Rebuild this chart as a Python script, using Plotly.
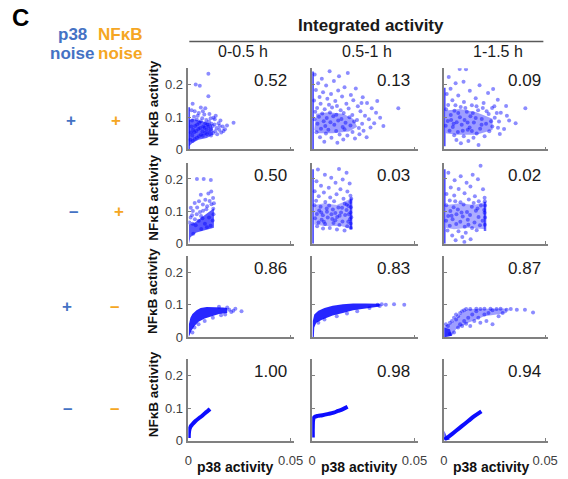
import plotly.graph_objects as go

# ---------------- data ----------------
col_titles = ["0-0.5 h", "0.5-1 h", "1-1.5 h"]
corr = [["0.52", "0.13", "0.09"],
        ["0.50", "0.03", "0.02"],
        ["0.86", "0.83", "0.87"],
        ["1.00", "0.98", "0.94"]]
p38_signs = ["+", "\u2013", "+", "\u2013"]
nfkb_signs = ["+", "+", "\u2013", "\u2013"]
x_ticks = [0, 0.05]
x_ticklabels = ["0", "0.05"]
y_ticks = [0, 0.1, 0.2]
y_ticklabels = ["0", "0.1", "0.2"]

# row 1 ---------------------------------------------------------
r1c1_pts = [(0.001, 0.03), (0.0012, 0.052), (0.0015, 0.071), (0.0021, 0.026), (0.0019, 0.043), (0.0023, 0.061),
            (0.0018, 0.089), (0.0031, 0.032), (0.0029, 0.053), (0.0033, 0.072), (0.0028, 0.101), (0.0042, 0.036),
            (0.0039, 0.057), (0.0043, 0.077), (0.0041, 0.092), (0.0052, 0.041), (0.0049, 0.063), (0.0053, 0.082),
            (0.0051, 0.112), (0.0062, 0.046), (0.0058, 0.066), (0.0061, 0.087), (0.0071, 0.042), (0.0069, 0.056),
            (0.0073, 0.071), (0.0068, 0.096), (0.0082, 0.051), (0.0079, 0.067), (0.0083, 0.081), (0.0078, 0.108),
            (0.0091, 0.047), (0.0089, 0.061), (0.0093, 0.077), (0.0088, 0.091), (0.0102, 0.052), (0.0098, 0.071),
            (0.0101, 0.086), (0.0111, 0.043), (0.0109, 0.062), (0.0113, 0.079), (0.0121, 0.051), (0.0119, 0.072),
            (0.0123, 0.098), (0.0131, 0.056), (0.0128, 0.077), (0.0141, 0.047), (0.0138, 0.066), (0.0151, 0.061),
            (0.0148, 0.081), (0.0161, 0.052), (0.0168, 0.071), (0.0179, 0.062), (0.0221, 0.082), (0.0036, 0.200),
            (0.0056, 0.196), (0.0098, 0.233), (0.0098, 0.164), (0.0083, 0.127), (0.0021, 0.141), (0.0061, 0.129),
            (0.0031, 0.118), (0.0103, 0.109), (0.0016, 0.121), (0.0046, 0.104), (0.0129, 0.093), (0.0153, 0.072),
            (0.0172, 0.057), (0.0134, 0.104), (0.0071, 0.118), (0.0109, 0.096), (0.0157, 0.089), (0.0189, 0.074)]
r1c1_core = [(0.0003, 0.01), (0.0003, 0.09), (0.002, 0.095), (0.005, 0.09), (0.008, 0.085), (0.011, 0.08),
             (0.012, 0.065), (0.012, 0.045), (0.009, 0.035), (0.005, 0.03), (0.002, 0.02)]
r1c1_strip = (0.0, 0.13)

r1c2_pts = [(0.0012, 0.231), (0.0047, 0.218), (0.0085, 0.241), (0.0131, 0.226), (0.0174, 0.236), (0.0029, 0.204),
            (0.0068, 0.197), (0.0106, 0.211), (0.0158, 0.192), (0.0213, 0.188), (0.0018, 0.183), (0.0053, 0.176),
            (0.0092, 0.171), (0.0127, 0.182), (0.0189, 0.168), (0.0247, 0.161), (0.0036, 0.162), (0.0074, 0.156),
            (0.0113, 0.149), (0.0146, 0.163), (0.0201, 0.152), (0.0268, 0.143), (0.0009, 0.151), (0.0041, 0.141),
            (0.0082, 0.138), (0.0121, 0.134), (0.0167, 0.141), (0.0223, 0.133), (0.0291, 0.127), (0.0024, 0.128),
            (0.0061, 0.124), (0.0097, 0.129), (0.0139, 0.121), (0.0178, 0.126), (0.0236, 0.118), (0.0312, 0.113),
            (0.0015, 0.116), (0.0049, 0.111), (0.0087, 0.114), (0.0118, 0.107), (0.0154, 0.112), (0.0196, 0.106),
            (0.0258, 0.104), (0.0332, 0.098), (0.0033, 0.101), (0.0071, 0.097), (0.0103, 0.102), (0.0143, 0.094),
            (0.0182, 0.099), (0.0219, 0.091), (0.0277, 0.093), (0.0011, 0.093), (0.0056, 0.087), (0.0089, 0.084),
            (0.0127, 0.089), (0.0163, 0.082), (0.0205, 0.086), (0.0244, 0.079), (0.0303, 0.081), (0.0026, 0.079),
            (0.0064, 0.072), (0.0108, 0.076), (0.0149, 0.069), (0.0187, 0.074), (0.0228, 0.066), (0.0285, 0.068),
            (0.0348, 0.072), (0.0043, 0.064), (0.0079, 0.061), (0.0117, 0.057), (0.0158, 0.062), (0.0197, 0.054),
            (0.0251, 0.058), (0.0021, 0.053), (0.0067, 0.049), (0.0134, 0.046), (0.0172, 0.043), (0.0231, 0.047),
            (0.0038, 0.038), (0.0094, 0.036), (0.0152, 0.031), (0.0209, 0.034), (0.0059, 0.024), (0.0123, 0.021),
            (0.0266, 0.038), (0.0421, 0.127), (0.0241, 0.143), (0.0318, 0.149)]
r1c2_core = [(0.001, 0.06), (0.002, 0.11), (0.008, 0.115), (0.015, 0.11), (0.020, 0.095), (0.022, 0.07),
             (0.018, 0.055), (0.010, 0.05), (0.003, 0.05)]
r1c2_strip = (0.0, 0.24)

r1c3_pts = [(0.0078, 0.248), (0.0109, 0.247), (0.0024, 0.223), (0.0058, 0.204), (0.0097, 0.209), (0.0176, 0.198),
            (0.0033, 0.187), (0.0128, 0.181), (0.0218, 0.174), (0.0243, 0.186), (0.0014, 0.171), (0.0071, 0.166),
            (0.0157, 0.158), (0.0266, 0.153), (0.0042, 0.152), (0.0099, 0.146), (0.0196, 0.143), (0.0021, 0.137),
            (0.0083, 0.131), (0.0138, 0.136), (0.0238, 0.128), (0.0307, 0.134), (0.0011, 0.124), (0.0052, 0.119),
            (0.0113, 0.116), (0.0169, 0.121), (0.0221, 0.109), (0.0281, 0.113), (0.0034, 0.106), (0.0079, 0.099),
            (0.0131, 0.102), (0.0187, 0.094), (0.0251, 0.098), (0.0322, 0.089), (0.0019, 0.088), (0.0063, 0.084),
            (0.0102, 0.091), (0.0148, 0.083), (0.0208, 0.079), (0.0272, 0.086), (0.0354, 0.081), (0.0009, 0.073),
            (0.0044, 0.069), (0.0088, 0.076), (0.0127, 0.068), (0.0179, 0.064), (0.0239, 0.071), (0.0297, 0.063),
            (0.0028, 0.058), (0.0069, 0.054), (0.0118, 0.061), (0.0162, 0.049), (0.0224, 0.056), (0.0276, 0.048),
            (0.0051, 0.044), (0.0098, 0.041), (0.0146, 0.036), (0.0201, 0.041), (0.0062, 0.029), (0.0121, 0.026),
            (0.0084, 0.019), (0.0171, 0.014), (0.0402, 0.127), (0.0249, 0.133), (0.0057, 0.136), (0.0143, 0.112),
            (0.0192, 0.128), (0.0036, 0.091), (0.0157, 0.097), (0.0211, 0.118), (0.0261, 0.112), (0.0106, 0.128),
            (0.0071, 0.112), (0.0048, 0.079), (0.0138, 0.057), (0.0186, 0.076), (0.0233, 0.087), (0.0117, 0.083),
            (0.0093, 0.058), (0.0161, 0.133), (0.0311, 0.104), (0.0267, 0.067)]
r1c3_core = [(0.001, 0.05), (0.001, 0.12), (0.008, 0.125), (0.016, 0.115), (0.024, 0.095), (0.024, 0.06),
             (0.016, 0.045), (0.006, 0.045)]
r1c3_strip = (0.01, 0.19)

# row 2 ---------------------------------------------------------
r2c1_pts = [(0.0042, 0.200), (0.0075, 0.200), (0.0110, 0.197), (0.0061, 0.151), (0.0098, 0.155), (0.0112, 0.161),
            (0.0031, 0.126), (0.0052, 0.131), (0.0083, 0.136), (0.0121, 0.141), (0.0012, 0.111), (0.0022, 0.101),
            (0.0043, 0.112), (0.0071, 0.121), (0.0092, 0.116), (0.0113, 0.122), (0.0122, 0.108), (0.0005, 0.066),
            (0.0011, 0.081), (0.0021, 0.062), (0.0032, 0.076), (0.0051, 0.071), (0.0062, 0.086), (0.0081, 0.062),
            (0.0101, 0.081), (0.0119, 0.072), (0.0123, 0.091), (0.0109, 0.056), (0.0024, 0.031), (0.0063, 0.046),
            (0.0091, 0.051), (0.0041, 0.091), (0.0072, 0.102), (0.0125, 0.125), (0.0018, 0.088), (0.0057, 0.098),
            (0.0088, 0.107), (0.0104, 0.132), (0.0036, 0.057), (0.0069, 0.079)]
r2c1_core = [(0.0003, 0.0), (0.0003, 0.06), (0.003, 0.065), (0.006, 0.08), (0.009, 0.095), (0.0125, 0.11),
             (0.0125, 0.05), (0.008, 0.042), (0.004, 0.035), (0.001, 0.02)]

r2c2_pts = [(0.0028, 0.229), (0.0131, 0.231), (0.0168, 0.219), (0.0062, 0.213), (0.0093, 0.204), (0.0149, 0.198),
            (0.0021, 0.193), (0.0114, 0.188), (0.0183, 0.186), (0.0043, 0.179), (0.0081, 0.173), (0.0138, 0.168),
            (0.0012, 0.162), (0.0057, 0.158), (0.0119, 0.153), (0.0172, 0.161), (0.0032, 0.147), (0.0088, 0.143),
            (0.0153, 0.139), (0.0187, 0.148), (0.0019, 0.133), (0.0064, 0.129), (0.0107, 0.131), (0.0159, 0.124),
            (0.0011, 0.119), (0.0041, 0.114), (0.0083, 0.118), (0.0128, 0.112), (0.0177, 0.117), (0.0034, 0.103),
            (0.0072, 0.099), (0.0101, 0.106), (0.0141, 0.097), (0.0168, 0.104), (0.0023, 0.092), (0.0052, 0.088),
            (0.0094, 0.091), (0.0122, 0.083), (0.0161, 0.089), (0.0014, 0.079), (0.0046, 0.074), (0.0076, 0.081),
            (0.0113, 0.073), (0.0148, 0.069), (0.0184, 0.076), (0.0031, 0.066), (0.0063, 0.061), (0.0104, 0.064),
            (0.0133, 0.058), (0.0171, 0.054), (0.0024, 0.054), (0.0086, 0.049), (0.0121, 0.044), (0.0158, 0.041),
            (0.0053, 0.047), (0.0189, 0.049), (0.0188, 0.063), (0.0191, 0.082), (0.0187, 0.097), (0.0189, 0.113),
            (0.0186, 0.129), (0.0191, 0.139), (0.0179, 0.091), (0.0176, 0.068), (0.0169, 0.121), (0.0098, 0.077),
            (0.0071, 0.109), (0.0134, 0.087), (0.0044, 0.097), (0.0146, 0.111), (0.0113, 0.095), (0.0057, 0.068)]
r2c2_core = [(0.001, 0.06), (0.001, 0.12), (0.006, 0.125), (0.012, 0.12), (0.019, 0.14), (0.0195, 0.045),
             (0.014, 0.055), (0.006, 0.055)]
r2c2_strip = (0.0, 0.23)
r2c2_edge = (0.019, 0.045, 0.14)

r2c3_pts = [(0.0181, 0.241), (0.0022, 0.219), (0.0083, 0.208), (0.0142, 0.213), (0.0053, 0.196), (0.0112, 0.188),
            (0.0168, 0.199), (0.0034, 0.174), (0.0073, 0.169), (0.0131, 0.177), (0.0193, 0.168), (0.0013, 0.154),
            (0.0051, 0.149), (0.0102, 0.156), (0.0153, 0.147), (0.0029, 0.134), (0.0082, 0.128), (0.0123, 0.137),
            (0.0172, 0.131), (0.0201, 0.142), (0.0012, 0.119), (0.0048, 0.113), (0.0097, 0.121), (0.0138, 0.114),
            (0.0183, 0.118), (0.0032, 0.101), (0.0069, 0.106), (0.0114, 0.098), (0.0158, 0.102), (0.0199, 0.104),
            (0.0021, 0.086), (0.0062, 0.091), (0.0093, 0.084), (0.0129, 0.089), (0.0171, 0.083), (0.0011, 0.071),
            (0.0043, 0.076), (0.0081, 0.068), (0.0118, 0.074), (0.0151, 0.066), (0.0191, 0.071), (0.0029, 0.056),
            (0.0061, 0.061), (0.0103, 0.053), (0.0139, 0.049), (0.0178, 0.057), (0.0018, 0.041), (0.0072, 0.039),
            (0.0108, 0.034), (0.0162, 0.042), (0.0041, 0.026), (0.0091, 0.021), (0.0132, 0.014), (0.0058, 0.011),
            (0.0101, 0.006), (0.0202, 0.059), (0.0203, 0.081), (0.0201, 0.096), (0.0203, 0.118), (0.0202, 0.131),
            (0.0056, 0.131), (0.0147, 0.126), (0.0087, 0.097), (0.0121, 0.059), (0.0038, 0.087), (0.0166, 0.109)]
r2c3_core = [(0.001, 0.05), (0.001, 0.12), (0.008, 0.125), (0.015, 0.12), (0.0205, 0.13), (0.0205, 0.045),
             (0.012, 0.05), (0.005, 0.045)]
r2c3_strip = (0.0, 0.23)
r2c3_edge = (0.0203, 0.04, 0.13)

# row 3 ---------------------------------------------------------
r3c1_pts = [(0.020, 0.085), (0.022, 0.082), (0.023, 0.088), (0.026, 0.080), (0.021, 0.078), (0.018, 0.070),
            (0.016, 0.068), (0.012, 0.060), (0.008, 0.050), (0.005, 0.040), (0.003, 0.030), (0.002, 0.015),
            (0.019, 0.092), (0.015, 0.094)]
r3c1_core = [(0.0002, 0.0), (0.0003, 0.04), (0.001, 0.06), (0.002, 0.072), (0.004, 0.083), (0.006, 0.090),
             (0.009, 0.093), (0.013, 0.093), (0.017, 0.092), (0.019, 0.090), (0.019, 0.075), (0.015, 0.072),
             (0.011, 0.065), (0.008, 0.058), (0.005, 0.048), (0.003, 0.035), (0.0015, 0.020), (0.0005, 0.005)]

r3c2_pts = [(0.032, 0.100), (0.034, 0.102), (0.036, 0.100), (0.040, 0.102), (0.045, 0.100), (0.028, 0.090),
            (0.033, 0.096), (0.022, 0.080), (0.017, 0.073), (0.012, 0.065), (0.006, 0.055), (0.003, 0.045)]
r3c2_core = [(0.0002, 0.0), (0.0003, 0.05), (0.001, 0.07), (0.003, 0.082), (0.006, 0.090), (0.010, 0.097),
             (0.015, 0.102), (0.020, 0.104), (0.026, 0.104), (0.033, 0.103), (0.033, 0.095), (0.025, 0.088),
             (0.020, 0.083), (0.015, 0.075), (0.010, 0.067), (0.005, 0.055), (0.002, 0.045), (0.001, 0.030),
             (0.0008, 0.0)]

r3c3_pts = [(0.001, 0.04), (0.002, 0.035), (0.003, 0.045), (0.004, 0.05), (0.005, 0.06), (0.006, 0.055),
            (0.006, 0.07), (0.007, 0.065), (0.008, 0.075), (0.009, 0.08), (0.010, 0.083), (0.011, 0.087),
            (0.008, 0.04), (0.010, 0.05), (0.012, 0.06), (0.014, 0.07), (0.016, 0.08), (0.018, 0.087), (0.015, 0.05),
            (0.017, 0.06), (0.020, 0.07), (0.022, 0.075), (0.024, 0.083), (0.026, 0.087), (0.024, 0.04), (0.021, 0.05),
            (0.027, 0.065), (0.029, 0.075), (0.031, 0.085), (0.033, 0.087), (0.036, 0.085), (0.040, 0.085),
            (0.044, 0.076), (0.013, 0.087), (0.016, 0.088), (0.020, 0.088), (0.023, 0.088), (0.028, 0.088),
            (0.007, 0.03), (0.009, 0.035), (0.011, 0.042), (0.005, 0.015), (0.003, 0.01), (0.013, 0.035),
            (0.018, 0.045)]
r3c3_core = [(0.0002, 0.0), (0.0002, 0.035), (0.004, 0.045), (0.008, 0.070), (0.012, 0.087), (0.031, 0.089),
             (0.031, 0.075), (0.020, 0.065), (0.012, 0.045), (0.006, 0.025), (0.004, 0.005)]
r3c3_corner = [(0.0002, 0.0), (0.0002, 0.03), (0.003, 0.025), (0.004, 0.005)]

# row 4 ---------------------------------------------------------
r4c1_curve_x = [0.0002, 0.0004, 0.001, 0.002, 0.0035, 0.005, 0.0065, 0.0083, 0.0095, 0.0106]
r4c1_curve_y = [0.008, 0.030, 0.042, 0.050, 0.060, 0.068, 0.075, 0.085, 0.091, 0.097]
r4c2_curve_x = [0.0003, 0.0003, 0.0005, 0.001, 0.0027, 0.005, 0.008, 0.0105, 0.0126, 0.015, 0.0173]
r4c2_curve_y = [0.009, 0.040, 0.065, 0.072, 0.076, 0.078, 0.082, 0.086, 0.091, 0.097, 0.104]
r4c3_curve_x = [0.0003, 0.003, 0.006, 0.009, 0.012, 0.015, 0.0185]
r4c3_curve_y = [0.003, 0.015, 0.030, 0.045, 0.060, 0.075, 0.090]
r4c3_corner = [(0.0002, 0.0), (0.0002, 0.03), (0.0015, 0.012), (0.003, 0.002)]

# ---------------- layout constants ----------------
W, H = 568, 479
col_px = [(189, 297), (316, 424), (451, 558)]
row_px = [(69.5, 152), (165.5, 248), (260.5, 343), (365.5, 448)]
BLUE = "#0000FF"
P38_COL = "#4472C4"
NFKB_COL = "#F5A623"
AXCOL = "#808080"
FONT = "Liberation Sans, Arial, sans-serif"


def px_x(p):
    return p / W


def px_y(p):
    return 1 - p / H


fig = go.Figure()

panels = {
    (0, 0): dict(pts=r1c1_pts, core=r1c1_core, core_op=0.6, strip=r1c1_strip),
    (0, 1): dict(pts=r1c2_pts, core=r1c2_core, core_op=0.38, strip=r1c2_strip),
    (0, 2): dict(pts=r1c3_pts, core=r1c3_core, core_op=0.38, strip=r1c3_strip),
    (1, 0): dict(pts=r2c1_pts, core=r2c1_core, core_op=0.65),
    (1, 1): dict(pts=r2c2_pts, core=r2c2_core, core_op=0.32, strip=r2c2_strip, edge=r2c2_edge),
    (1, 2): dict(pts=r2c3_pts, core=r2c3_core, core_op=0.32, strip=r2c3_strip, edge=r2c3_edge),
    (2, 0): dict(pts=r3c1_pts, core=r3c1_core, core_op=0.85),
    (2, 1): dict(pts=r3c2_pts, core=r3c2_core, core_op=0.85),
    (2, 2): dict(pts=r3c3_pts, core=r3c3_core, core_op=0.38, corner=r3c3_corner),
    (3, 0): dict(curve=(r4c1_curve_x, r4c1_curve_y)),
    (3, 1): dict(curve=(r4c2_curve_x, r4c2_curve_y)),
    (3, 2): dict(curve=(r4c3_curve_x, r4c3_curve_y), corner=r4c3_corner),
}

annotations = []
for r in range(4):
    for c in range(3):
        k = r * 3 + c + 1
        xa = "x" if k == 1 else f"x{k}"
        ya = "y" if k == 1 else f"y{k}"
        p = panels[(r, c)]
        if "core" in p:
            fig.add_trace(go.Scatter(
                x=[q[0] for q in p["core"]], y=[q[1] for q in p["core"]],
                fill="toself", mode="lines", line=dict(width=0),
                fillcolor=f"rgba(0,0,255,{p['core_op']})", hoverinfo="skip",
                showlegend=False, xaxis=xa, yaxis=ya))
        if "corner" in p:
            fig.add_trace(go.Scatter(
                x=[q[0] for q in p["corner"]], y=[q[1] for q in p["corner"]],
                fill="toself", mode="lines", line=dict(width=0),
                fillcolor="rgba(0,0,255,0.7)", hoverinfo="skip",
                showlegend=False, xaxis=xa, yaxis=ya))
        if "strip" in p:
            fig.add_trace(go.Scatter(
                x=[0.0003, 0.0003], y=list(p["strip"]), mode="lines",
                line=dict(color="rgba(0,0,255,0.7)", width=2.2),
                showlegend=False, xaxis=xa, yaxis=ya))
        if "edge" in p:
            ex, ey0, ey1 = p["edge"]
            fig.add_trace(go.Scatter(
                x=[ex, ex], y=[ey0, ey1], mode="lines",
                line=dict(color="rgba(0,0,255,0.6)", width=2.5),
                showlegend=False, xaxis=xa, yaxis=ya))
        if "pts" in p:
            fig.add_trace(go.Scatter(
                x=[q[0] for q in p["pts"]], y=[q[1] for q in p["pts"]],
                mode="markers", marker=dict(size=4, color=BLUE, opacity=0.45, line=dict(width=0)),
                showlegend=False, xaxis=xa, yaxis=ya))
        if "curve" in p:
            fig.add_trace(go.Scatter(
                x=p["curve"][0], y=p["curve"][1], mode="lines",
                line=dict(color=BLUE, width=4, shape="spline"), opacity=0.95,
                showlegend=False, xaxis=xa, yaxis=ya))

        x0, x1 = col_px[c]
        yt, yb = row_px[r]
        fig.layout[f"xaxis{'' if k == 1 else k}"] = dict(
            domain=[px_x(x0), px_x(x1)], range=[0, 0.0515], anchor=ya,
            showgrid=False, zeroline=False, showline=True, linecolor=AXCOL, linewidth=1.5,
            ticks="inside", ticklen=3, tickcolor=AXCOL, tickvals=x_ticks, ticktext=x_ticklabels,
            showticklabels=(r == 3), tickfont=dict(size=13, color="#404040", family=FONT),
            ticklabelstandoff=7, fixedrange=True)
        fig.layout[f"yaxis{'' if k == 1 else k}"] = dict(
            domain=[px_y(yb), px_y(yt)], range=[0, 0.25], anchor=xa,
            showgrid=False, zeroline=False, showline=True, linecolor=AXCOL, linewidth=1.5,
            ticks="inside", ticklen=3, tickcolor=AXCOL, tickvals=y_ticks, ticktext=y_ticklabels,
            showticklabels=(c == 0), tickfont=dict(size=13, color="#404040", family=FONT),
            ticklabelstandoff=1, fixedrange=True)

        annotations.append(dict(
            x=0.049, y=0.212, xref=xa, yref=ya, text=corr[r][c], showarrow=False,
            xanchor="right", yanchor="middle", font=dict(size=17, color="#1a1a1a", family=FONT)))

        if r == 3:
            annotations.append(dict(
                x=px_x(x0 + 7), y=px_y(475), xref="paper", yref="paper", text="<b>p38 activity</b>",
                showarrow=False, xanchor="left", yanchor="middle",
                font=dict(size=14, color="#111111", family=FONT)))

    # y titles
    yt, yb = row_px[r]
    annotations.append(dict(
        x=px_x(153), y=px_y((yt + yb) / 2 - 6), xref="paper", yref="paper",
        text="<b>NF\u03baB activity</b>", textangle=-90, showarrow=False,
        xanchor="center", yanchor="middle", font=dict(size=13.5, color="#111111", family=FONT)))

# column titles
for c, t in enumerate(col_titles):
    x0, x1 = col_px[c]
    annotations.append(dict(
        x=px_x((x0 + x1) / 2 + 2), y=px_y(52), xref="paper", yref="paper", text=t,
        showarrow=False, xanchor="center", yanchor="middle",
        font=dict(size=16, color="#1a1a1a", family=FONT)))

annotations += [
    dict(x=px_x(376), y=px_y(26), xref="paper", yref="paper", text="<b>Integrated activity</b>",
         showarrow=False, xanchor="center", yanchor="middle", font=dict(size=17, color="#1a1a1a", family=FONT)),
    dict(x=px_x(17), y=px_y(18), xref="paper", yref="paper", text="<b>C</b>",
         showarrow=False, xanchor="center", yanchor="middle", font=dict(size=24, color="#000000", family=FONT)),
    dict(x=px_x(70), y=px_y(35), xref="paper", yref="paper", text="<b>p38</b>",
         showarrow=False, xanchor="center", yanchor="middle", font=dict(size=17, color=P38_COL, family=FONT)),
    dict(x=px_x(70), y=px_y(54), xref="paper", yref="paper", text="<b>noise</b>",
         showarrow=False, xanchor="center", yanchor="middle", font=dict(size=17, color=P38_COL, family=FONT)),
    dict(x=px_x(118.5), y=px_y(35), xref="paper", yref="paper", text="<b>NF\u03baB</b>",
         showarrow=False, xanchor="center", yanchor="middle", font=dict(size=17, color=NFKB_COL, family=FONT)),
    dict(x=px_x(118.5), y=px_y(54), xref="paper", yref="paper", text="<b>noise</b>",
         showarrow=False, xanchor="center", yanchor="middle", font=dict(size=17, color=NFKB_COL, family=FONT)),
]

sign_y = [123, 215, 312, 415]
p38_sign_x = [69, 71, 65, 65]
nfkb_sign_x = [115, 118, 113, 113]
for i in range(4):
    annotations.append(dict(x=px_x(p38_sign_x[i]), y=px_y(sign_y[i]), xref="paper", yref="paper",
                            text=f"<b>{p38_signs[i]}</b>", showarrow=False, xanchor="center", yanchor="middle",
                            font=dict(size=17, color=P38_COL, family=FONT)))
    annotations.append(dict(x=px_x(nfkb_sign_x[i]), y=px_y(sign_y[i]), xref="paper", yref="paper",
                            text=f"<b>{nfkb_signs[i]}</b>", showarrow=False, xanchor="center", yanchor="middle",
                            font=dict(size=17, color=NFKB_COL, family=FONT)))

fig.update_layout(
    width=W, height=H, margin=dict(l=0, r=0, t=0, b=0),
    paper_bgcolor="white", plot_bgcolor="white",
    annotations=annotations,
    shapes=[dict(type="line", xref="paper", yref="paper", x0=px_x(190), x1=px_x(553),
                 y0=px_y(42.3), y1=px_y(42.3), line=dict(color="#595959", width=1.5))],
    font=dict(family=FONT),
)

fig.write_html("out.html", config={"displayModeBar": False},
               post_script="document.body.style.margin='0px';document.body.style.overflow='hidden';")
